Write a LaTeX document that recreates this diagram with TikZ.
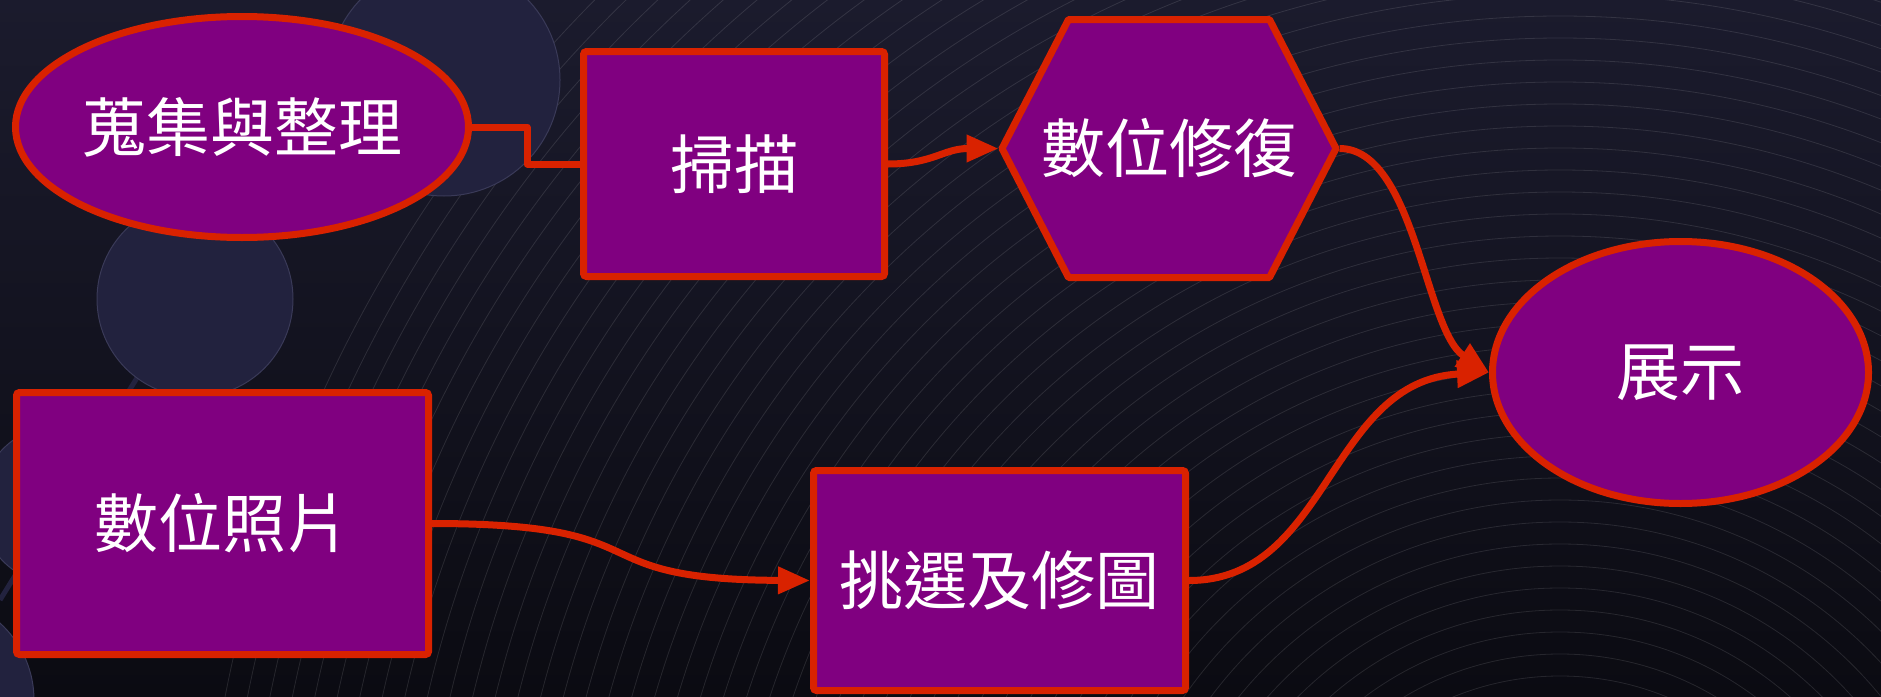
\documentclass[tikz,border=0pt]{standalone}
\usepackage{fontspec}
\newfontfamily\cjk{Noto Sans CJK TC}
\usetikzlibrary{shapes.geometric,arrows.meta,calc}
\definecolor{bgtop}{HTML}{1B1B2D}
\definecolor{bgbot}{HTML}{0B0B12}
\definecolor{blob}{HTML}{22223E}
\definecolor{blobedge}{HTML}{3A3A58}
\definecolor{nodefill}{HTML}{800080}
\definecolor{nodeline}{HTML}{D92200}
\pgfdeclarelayer{back}
\pgfdeclarelayer{shapes}
\pgfsetlayers{back,shapes,main}
\begin{document}
\begin{tikzpicture}[x=1pt,y=-1pt,
  cjktext/.style={font=\cjk\fontsize{64}{76}\selectfont, text=white},
  boxnode/.style={cjktext, rectangle, rounded corners=3pt, draw=nodeline, fill=nodefill, line width=7pt, inner sep=0pt},
  ellnode/.style={cjktext, ellipse, draw=nodeline, fill=nodefill, line width=7pt, inner sep=0pt},
  flow/.style={draw=nodeline, line width=7pt, line join=round},
  arrowed/.style={flow, -{Triangle[length=32pt,width=26pt]}},
  blobstyle/.style={fill=blob, draw=blobedge, line width=1pt},
  arcline/.style={draw=white, draw opacity=0.11, line width=0.8pt}]
\useasboundingbox (0,0) rectangle (1881,696);
\begin{pgfonlayer}{back}
  \fill[top color=bgtop, bottom color=bgbot] (0,0) rectangle (1881,696);
  \begin{scope}
    \clip (0,0) rectangle (1881,696);
    \coordinate (arccenter) at (1560,958);
    \foreach \r in {282,304,...,1370} \draw[arcline] (arccenter) circle[radius=\r];
    \draw[line width=5pt, draw=blob] (0,600) -- (185,300);
    \filldraw[blobstyle] (444,80) circle[radius=116];
    \filldraw[blobstyle] (195,299) circle[radius=98];
    \filldraw[blobstyle] (60,505) circle[radius=80];
    \filldraw[blobstyle] (-70,700) circle[radius=104];
  \end{scope}
\end{pgfonlayer}

\node[ellnode, minimum width=453pt, minimum height=221pt] (collect) at (242,127) {蒐集與整理};
\node[boxnode, minimum width=301pt, minimum height=225pt] (scan) at (734,164) {掃描};
\node[cjktext, rectangle, minimum width=334pt, minimum height=258pt, inner sep=0pt, outer sep=3.5pt] (fix) at (1169,148.5) {數位修復};
\node[ellnode, minimum width=376pt, minimum height=262pt] (show) at (1680.5,372.5) {展示};
\node[boxnode, minimum width=412pt, minimum height=262pt] (photo) at (222.5,523.5) {數位照片};
\node[boxnode, minimum width=372pt, minimum height=220pt] (select) at (999.5,580.5) {挑選及修圖};

\begin{pgfonlayer}{shapes}
  \filldraw[fill=nodefill, draw=nodeline, line width=7pt, line join=round]
    ($(fix.center)+(-167,0)$) -- ($(fix.center)+(-100.5,-129)$) -- ($(fix.center)+(100.5,-129)$)
    -- ($(fix.center)+(167,0)$) -- ($(fix.center)+(100.5,129)$) -- ($(fix.center)+(-100.5,129)$) -- cycle;
\end{pgfonlayer}

\draw[flow] (collect.east) -- ++(55,0) |- (scan.west);
\draw[arrowed] (scan.east) .. controls +(45,0) and +(-55,0) .. (fix.west);
\draw[arrowed] (fix.east) .. controls +(75,0) and +(-64,-42) .. (show.west);
\draw[arrowed] (photo.east) .. controls +(240,0) and +(-240,-1) .. (select.west);
\draw[arrowed] (select.east) .. controls +(140,0) and +(-160,8) .. (show.west);
\end{tikzpicture}
\end{document}
